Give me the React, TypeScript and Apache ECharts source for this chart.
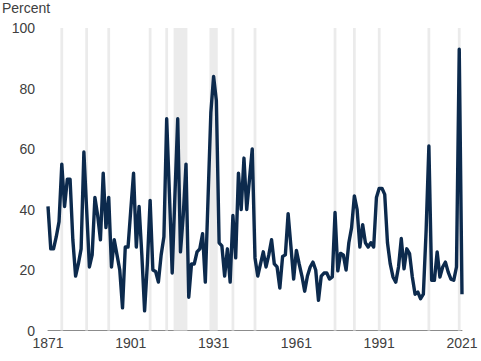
import React, { useEffect, useRef } from "react";
import * as echarts from "echarts";

const startYear = 1871;
const values: number[] = [
  // 1871-1880
  41, 27, 27, 31, 36, 55, 41, 50, 50, 30,
  // 1881-1890
  18, 22, 27, 59, 40, 21, 25, 44, 38, 30,
  // 1891-1900
  52, 34, 44, 21, 30, 25, 20, 7.5, 27.6, 27.6,
  // 1901-1910
  40, 52, 27.6, 41, 25, 6.5, 22, 43, 20, 19.5,
  // 1911-1920
  16, 25, 31, 70, 45, 19, 45, 70, 26, 38,
  // 1921-1930
  55, 11, 22, 22, 26, 27, 32, 16, 44, 72,
  // 1931-1940
  84, 76, 29, 28, 18, 27, 16, 38, 24, 52,
  // 1941-1950
  40, 57, 40, 50, 60, 24, 18, 22, 26, 21,
  // 1951-1960
  25, 30, 22, 21, 14, 24.5, 25, 38.6, 28, 17,
  // 1961-1970
  26.5, 22, 18, 13, 18, 21, 22.6, 20, 10, 18,
  // 1971-1980
  19, 19, 17, 17.7, 39, 19.7, 25.5, 25, 20, 29,
  // 1981-1990
  34, 44.5, 40, 27.6, 35, 29, 27.6, 29, 27.6, 44,
  // 1991-2000
  47, 47, 45, 29, 22, 17.7, 16, 21, 30.4, 20.4,
  // 2001-2010
  27, 25.4, 17.7, 12, 12.7, 10.5, 12, 33, 61, 16.6,
  // 2011-2021
  16.6, 26, 17.7, 21, 22.6, 19.3, 17, 16.6, 21, 93, 12,
];

// recession periods (shaded), as [first year, last year]
const recessions: [number, number][] = [
  [1876, 1876],
  [1885, 1885],
  [1893, 1893],
  [1908, 1908],
  [1914, 1914],
  [1917, 1921],
  [1930, 1932],
  [1938, 1938],
  [1946, 1946],
  [1975, 1975],
  [1982, 1982],
  [1991, 1991],
  [2009, 2009],
  [2020, 2020],
];

const xTickLabels = [1871, 1901, 1931, 1961, 1991, 2021];
const yTicks = [0, 20, 40, 60, 80, 100];

export default function App() {
  const ref = useRef<HTMLDivElement>(null);
  useEffect(() => {
    if (!ref.current) return;
    const chart = echarts.init(ref.current, undefined, { renderer: "svg" });
    const data = values.map((v, i) => [startYear + i, v]);
    const font = "Liberation Sans, Arial, sans-serif";
    chart.setOption({
      animation: false,
      backgroundColor: "#ffffff",
      title: {
        text: "Percent",
        left: 2,
        top: 1,
        padding: 0,
        textStyle: {
          fontFamily: font,
          fontSize: 14,
          fontWeight: "normal",
          color: "#404040",
        },
      },
      grid: { left: 48, right: 19, top: 28, bottom: 30.5 },
      xAxis: {
        type: "value",
        min: startYear,
        max: startYear + values.length - 1,
        axisLine: { show: true, lineStyle: { color: "#8c8c8c", width: 1 } },
        axisTick: { show: false },
        splitLine: { show: false },
        axisLabel: {
          customValues: xTickLabels,
          formatter: (v: number) => String(v),
          fontFamily: font,
          fontSize: 14,
          color: "#404040",
          margin: 5,
        },
      },
      yAxis: {
        type: "value",
        min: yTicks[0],
        max: yTicks[yTicks.length - 1],
        interval: 20,
        axisLine: { show: false },
        axisTick: { show: false },
        splitLine: { show: false },
        axisLabel: {
          fontFamily: font,
          fontSize: 14,
          color: "#404040",
          margin: 13,
        },
      },
      series: [
        {
          type: "line",
          data,
          showSymbol: false,
          symbol: "none",
          lineStyle: { color: "#0c2a4d", width: 3.4, join: "round" },
          z: 3,
          markArea: {
            silent: true,
            itemStyle: { color: "#ebebeb" },
            data: recessions.map(([a, b]) => [
              { xAxis: a - 0.5 },
              { xAxis: b + 0.5 },
            ]),
          },
        },
      ],
    });
    return () => chart.dispose();
  }, []);
  return <div ref={ref} style={{ width: 481, height: 361, position: "absolute", left: 0, top: 0 }} />;
}
